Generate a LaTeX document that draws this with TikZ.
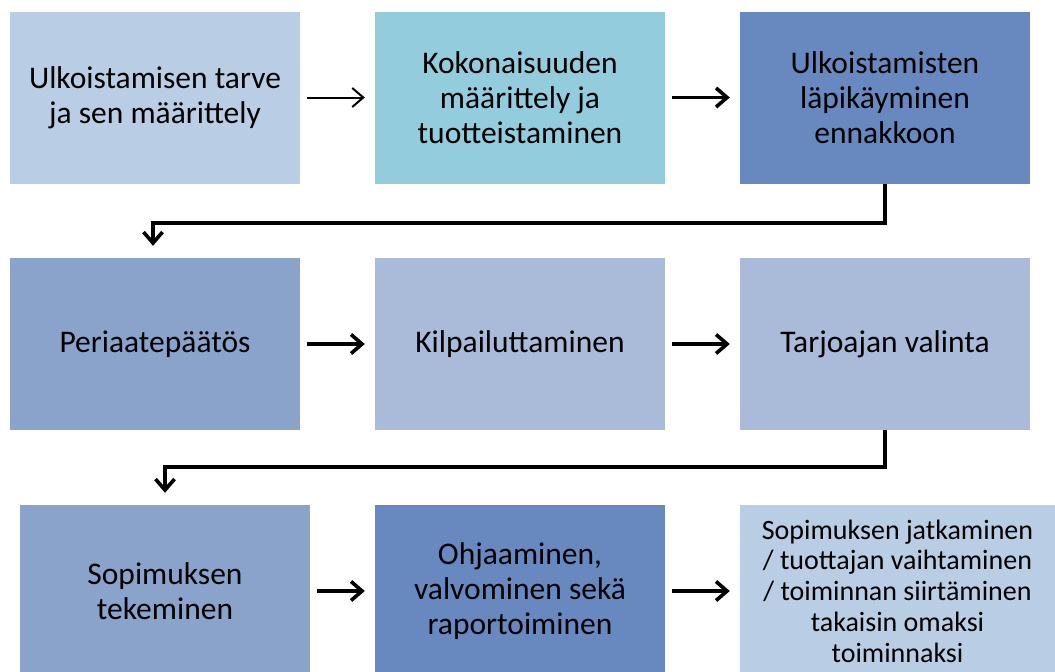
\documentclass[tikz,border=0pt]{standalone}
\usepackage{fontspec}
\setmainfont{Carlito}
\usetikzlibrary{arrows.meta,calc}
\definecolor{needblue}{HTML}{B9CDE5}
\definecolor{wholecyan}{HTML}{93CDDD}
\definecolor{deepblue}{HTML}{6789C0}
\definecolor{midblue}{HTML}{89A3CB}
\definecolor{paleblue}{HTML}{AABAD9}

\begin{document}
\begin{tikzpicture}[x=1pt,y=-1pt,
 stepbox/.style={fill=#1, minimum width=290pt, minimum height=172pt, inner sep=0pt, align=center, font=\fontsize{31.5}{35}\selectfont},
 flow/.style={-{Straight Barb[length=11pt,width=19pt]}, line width=3.6pt},
 thinflow/.style={-{Straight Barb[length=11pt,width=19pt,line width=2pt]}, line width=2pt}]
\useasboundingbox (0,0) rectangle (1055,672);
\clip (0,0) rectangle (1055,672);

\node[stepbox=needblue] (need) at (155,97.5) {Ulkoistamisen tarve\\ja sen määrittely};
\node[stepbox=wholecyan] (whole) at (520,97.5) {Kokonaisuuden\\määrittely ja\\tuotteistaminen};
\node[stepbox=deepblue] (review) at (885,97.5) {Ulkoistamisten\\läpikäyminen\\ennakkoon};

\node[stepbox=midblue] (decision) at (155,344) {Periaatepäätös};
\node[stepbox=paleblue] (tender) at (520,344) {Kilpailuttaminen};
\node[stepbox=paleblue] (choice) at (885,344) {Tarjoajan valinta};

\node[stepbox=midblue] (contract) at (165,591) {Sopimuksen\\tekeminen};
\node[stepbox=deepblue] (steer) at (520,591) {Ohjaaminen,\\valvominen sekä\\raportoiminen};
\node[stepbox=needblue, minimum width=315pt, font=\fontsize{28}{30.8}\selectfont] (next) at (897.5,591) {Sopimuksen jatkaminen\\/ tuottajan vaihtaminen\\/ toiminnan siirtäminen\\takaisin omaksi\\toiminnaksi};

\draw[thinflow, shorten <=7pt, shorten >=10pt] (need) -- (whole);
\draw[flow, shorten <=7pt, shorten >=10pt] (whole) -- (review);
\draw[flow, shorten <=7pt, shorten >=10pt] (decision) -- (tender);
\draw[flow, shorten <=7pt, shorten >=10pt] (tender) -- (choice);
\draw[flow, shorten <=7pt, shorten >=10pt] (contract) -- (steer);
\draw[flow, shorten <=7pt, shorten >=10pt] (steer) -- (next);

\draw[flow] (review.south) -- ++(0,39) -| ([xshift=-2pt,yshift=12pt]decision.north);
\draw[flow] (choice.south) -- ++(0,37) -| ([yshift=12pt]contract.north);
\end{tikzpicture}
\end{document}
